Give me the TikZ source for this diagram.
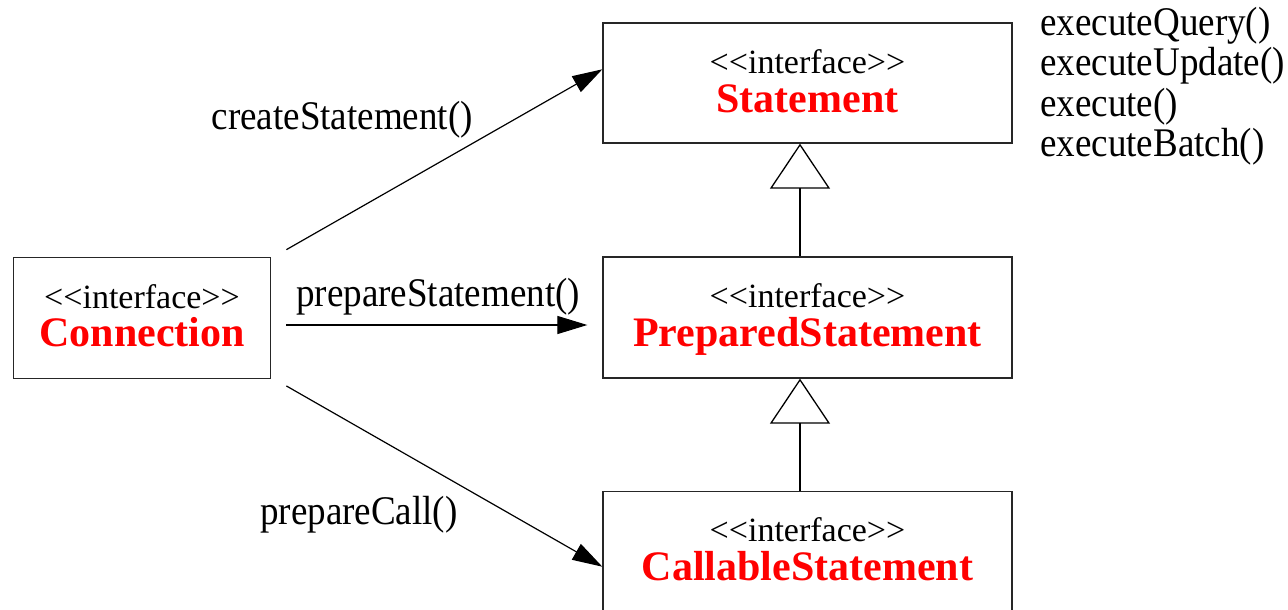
\documentclass[tikz,border=0pt]{standalone}
\usepackage{fontspec}
\setmainfont{Liberation Serif}
\newfontfamily\msgfont[FakeStretch=0.91]{Liberation Serif}
\usetikzlibrary{arrows.meta,calc}

\tikzset{
  classbox/.style={draw=black!85, line width=1.3pt, rectangle, inner sep=0pt,
                   minimum width=409pt, minimum height=120pt},
  stereo/.style={anchor=base, inner sep=0pt, font=\fontsize{34}{40}\selectfont},
  cname/.style={anchor=base, inner sep=0pt, text=red,
                font=\fontsize{42}{46}\selectfont\bfseries},
  msg/.style={anchor=base west, inner sep=0pt, font=\msgfont\fontsize{40.7}{44}\selectfont},
  call/.style={line width=1.2pt, -{Triangle[length=30pt,width=18pt]}},
  inherit/.style={line width=1.3pt, -{Triangle[open,length=45pt,width=60pt]}},
}

\begin{document}
\begin{tikzpicture}[x=1pt,y=-1pt]
  \useasboundingbox (0,0) rectangle (1288,610);
  \clip (0,0) rectangle (1288,610);

  % interface boxes
  \node[classbox, minimum width=257.5pt, minimum height=121pt] (conn) at (142,317.8) {};
  \node[classbox] (stmt) at (807.5,83) {};
  \node[classbox, minimum height=121pt] (prep) at (807.5,317.5) {};
  \node[classbox, minimum height=121pt] (call) at (807.5,552) {};

  % stereotypes and names
  \node[stereo] (conn-s) at ($(conn.north)+(0,52)$) {<\kern0pt<interface>\kern0pt>};
  \node[cname]  (conn-n) at ($(conn.north)+(0,89.5)$) {Connection};
  \node[stereo] (stmt-s) at ($(stmt.north)+(0,51)$) {<\kern0pt<interface>\kern0pt>};
  \node[cname]  (stmt-n) at ($(stmt.north)+(0,90)$) {Statement};
  \node[stereo] (prep-s) at ($(prep.north)+(0,51)$) {<\kern0pt<interface>\kern0pt>};
  \node[cname]  (prep-n) at ($(prep.north)+(0,90)$) {PreparedStatement};
  \node[stereo] (call-s) at ($(call.north)+(0,51)$) {<\kern0pt<interface>\kern0pt>};
  \node[cname]  (call-n) at ($(call.north)+(0,90)$) {CallableStatement};

  % methods of Statement
  \node[msg] (m1) at (1040,35.7)  {executeQuery()};
  \node[msg] (m2) at (1040,76)    {executeUpdate()};
  \node[msg] (m3) at (1040,116.3) {execute()};
  \node[msg] (m4) at (1040,156.6) {executeBatch()};

  % factory calls from Connection
  \coordinate (cs1) at ($(conn.north east)+(15,-7)$);
  \coordinate (cs2) at ($(conn.east)+(15,7.2)$);
  \coordinate (cs3) at ($(conn.south east)+(15,7)$);

  \draw[call] (cs1) -- ($(stmt.west)+(0,-13.7)$);
  \draw[call] (cs2) -- ($(prep.west)+(-15,7.5)$);
  \draw[call] (cs3) -- ($(call.west)+(0,14.7)$);

  \node[msg] (l1) at (211.5,129.3) {createStatement()};
  \node[msg] (l2) at (296,306.7)   {prepareStatement()};
  \node[msg] (l3) at (260,524)     {prepareCall()};

  % generalisation
  \draw[inherit] ($(prep.north)+(-7.5,0)$) -- ($(stmt.south)+(-7.5,0)$);
  \draw[inherit] ($(call.north)+(-7.5,0)$) -- ($(prep.south)+(-7.5,0)$);
\end{tikzpicture}
\end{document}
